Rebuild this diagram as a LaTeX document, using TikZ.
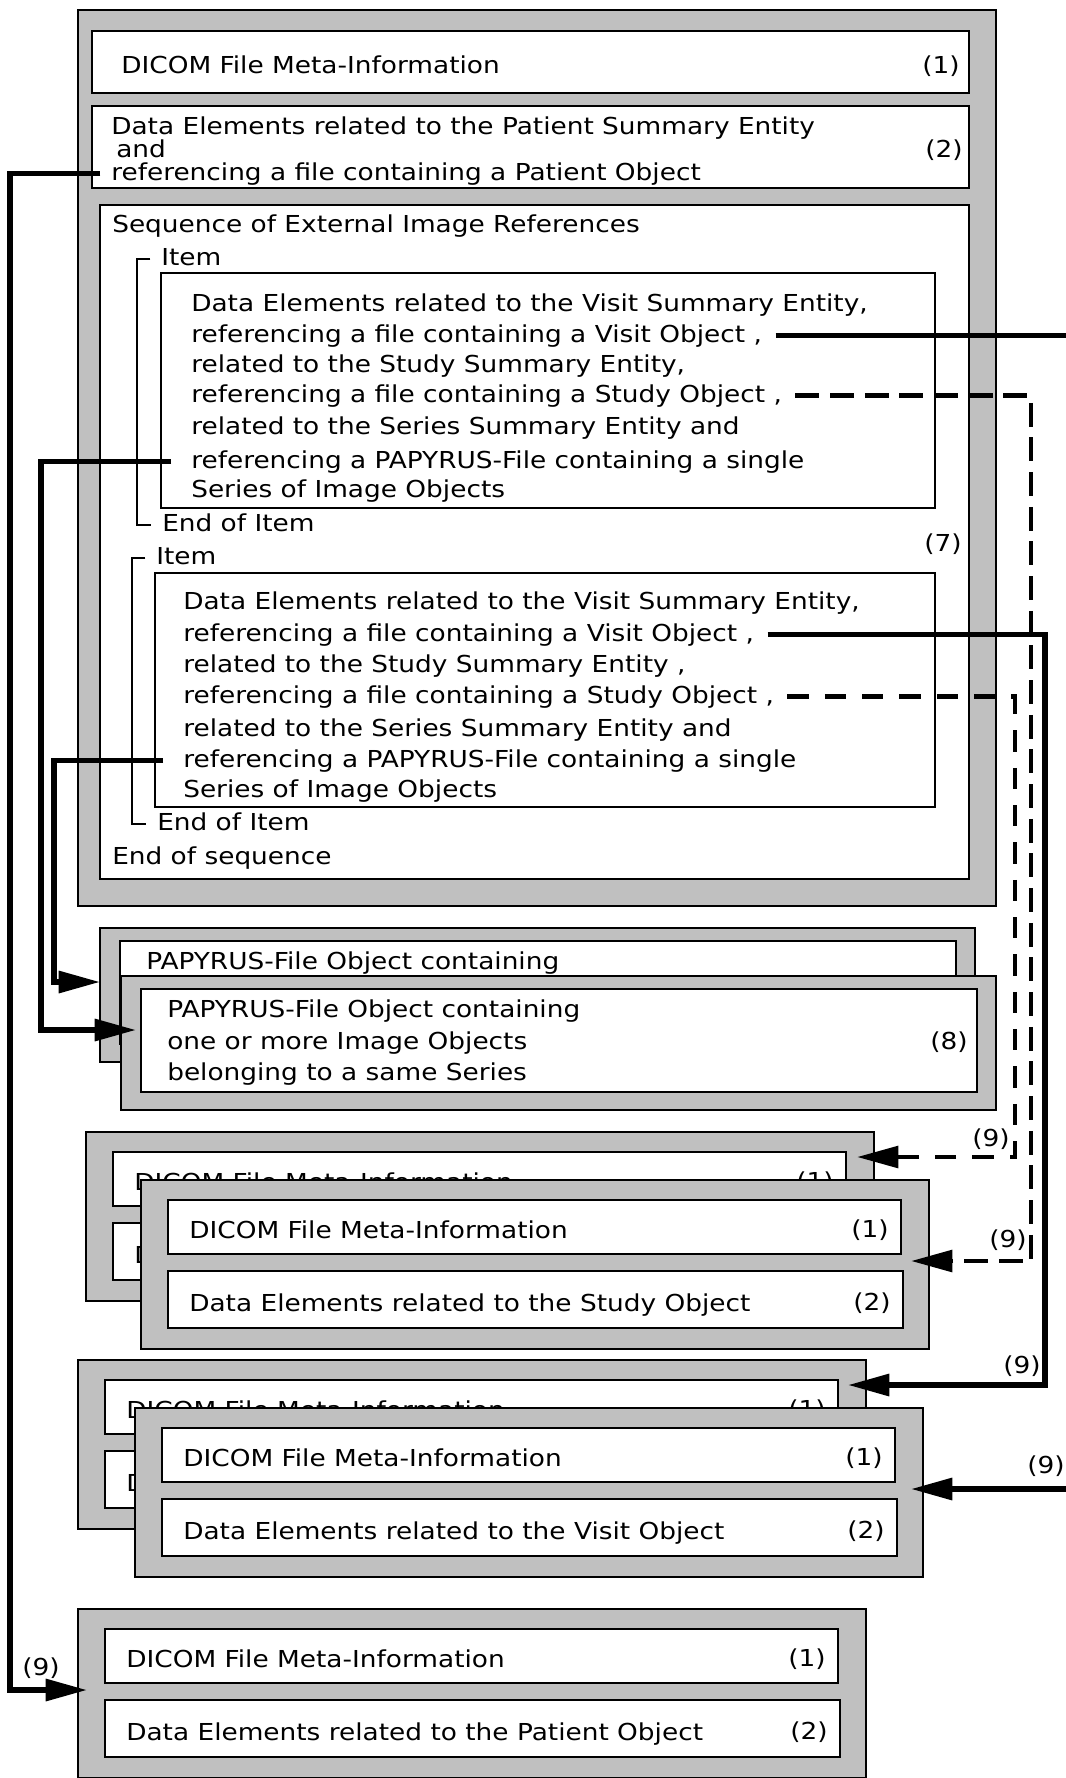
\documentclass[tikz,border=0pt]{standalone}
\usepackage{fontspec}
\setmainfont{DejaVu Sans}[FakeStretch=1.13]
\usetikzlibrary{arrows.meta,fit}
\definecolor{framegray}{RGB}{192,192,192}

\tikzset{
  graybox/.style={draw, line width=1.5pt, fill=framegray, inner sep=0pt},
  whitebox/.style={draw, line width=2.2pt, fill=white, inner sep=0pt},
  thinbox/.style={draw, line width=1.6pt, fill=white, inner sep=0pt},
  txt/.style={font=\fontsize{17.5}{21}\selectfont, inner sep=0pt, text height=13.5pt, text depth=4pt, anchor=base west},
  num/.style={txt, anchor=base east},
  bracket/.style={line width=1.5pt},
  link/.style={line width=4pt, -{Triangle[length=31pt,width=16pt]}},
  studylink/.style={link, line width=3.6pt, dash pattern=on 18pt off 8pt},
  studylinkb/.style={link, line width=3.6pt, dash pattern=on 16pt off 12pt}
}

\newcommand{\dicomfile}[4]{%
  \begin{scope}[shift={(#2,#3)}]
    \node[graybox, fit={(0,0) (788,169)}] (#1) {};
    \node[whitebox, fit={(27,20) (760,74)}] (#1-meta) {};
    \node[whitebox, fit={(27,91) (762,148)}] (#1-data) {};
    \node[txt] (#1-metatext) at (48,58) {DICOM File Meta-Information};
    \node[num] (#1-metanum) at (748,57) {(1)};
    \node[txt] (#1-datatext) at (48,131) {Data Elements related to the #4 Object};
    \node[num] (#1-datanum) at (750,130) {(2)};
  \end{scope}}

\newcommand{\papyrusfile}[3]{%
  \begin{scope}[shift={(#2,#3)}]
    \node[graybox, fit={(0,0) (875,134)}] (#1) {};
    \node[whitebox, fit={(20,13) (856,116)}] (#1-box) {};
    \node[txt] (#1-l1) at (46,41) {PAPYRUS-File Object containing};
  \end{scope}}

\begin{document}
\begin{tikzpicture}[x=0.75pt, y=-0.75pt]
\useasboundingbox (0,0) rectangle (1066,1778);
\clip (0,0) rectangle (1066,1778);

\node[graybox, fit={(78,10) (996,906)}] (mainfile) {};
\node[whitebox, fit={(92,31) (969,93)}] (meta) {};
\node[txt] (metatext) at (121,73) {DICOM File Meta-Information};
\node[num] (metanum) at (960,73) {(1)};
\node[whitebox, fit={(92,106) (969,188)}] (patsum) {};
\node[txt] (ps1) at (111,134) {Data Elements related to the Patient Summary Entity};
\node[txt] (ps2) at (116,157) {and};
\node[txt] (ps3) at (111,180) {referencing a file containing a Patient Object};
\node[num] (psnum) at (963,157) {(2)};
\node[thinbox, fit={(100,205) (969,879)}] (seq) {};
\node[txt] (seqtext) at (112,232) {Sequence of External Image References};
\node[num] (seqnum) at (962,551) {(7)};
\node[txt] (seqend) at (112,864) {End of sequence};

\node[txt] (itema) at (161,265) {Item};
\node[thinbox, fit={(161,273) (935,508)}] (boxa) {};
\foreach \y/\lbl [count=\i] in {311/{Data Elements related to the Visit Summary Entity,},
    342/{referencing a file containing a Visit Object ,},
    372/{related to the Study Summary Entity,},
    402/{referencing a file containing a Study Object ,},
    434/{related to the Series Summary Entity and},
    468/{referencing a PAPYRUS-File containing a single},
    497/{Series of Image Objects}}
  \node[txt] (ia\i) at (191,\y) {\lbl};
\node[txt] (enda) at (162,531) {End of Item};
\draw[bracket] ([xshift=-8pt]itema.west) -- ++(-13,0) |- ([xshift=-8pt]enda.west);

\node[txt] (itemb) at (156,564) {Item};
\node[thinbox, fit={(155,573) (935,807)}] (boxb) {};
\foreach \y/\lbl [count=\i] in {609/{Data Elements related to the Visit Summary Entity,},
    641/{referencing a file containing a Visit Object ,},
    672/{related to the Study Summary Entity ,},
    703/{referencing a file containing a Study Object ,},
    736/{related to the Series Summary Entity and},
    767/{referencing a PAPYRUS-File containing a single},
    797/{Series of Image Objects}}
  \node[txt] (ib\i) at (183,\y) {\lbl};
\node[txt] (endb) at (157,830) {End of Item};
\draw[bracket] ([xshift=-8pt]itemb.west) -- ++(-13,0) |- ([xshift=-8pt]endb.west);

\papyrusfile{papback}{100}{928}
\papyrusfile{papfront}{121}{976}
\node[txt] (papfront-l2) at (167,1049) {one or more Image Objects};
\node[txt] (papfront-l3) at (167,1080) {belonging to a same Series};
\node[num] (papfront-num) at (968,1049) {(8)};
\dicomfile{studyback}{86}{1132}{Study}
\dicomfile{studyfront}{141}{1180}{Study}
\dicomfile{visitback}{78}{1360}{Visit}
\dicomfile{visitfront}{135}{1408}{Visit}
\dicomfile{patfile}{78}{1609}{Patient}

\coordinate (laneP) at (10,0);
\coordinate (laneR1) at (41,0);
\coordinate (laneR2) at (54,0);
\coordinate (laneS2) at (1015,0);
\coordinate (laneS1) at (1031,0);
\coordinate (laneV2) at (1045,0);
\coordinate (laneV1) at (1085,0);
\coordinate (inP) at (87,1690);
\coordinate (inR1) at (136,1030);
\coordinate (inR2) at (100,982);
\coordinate (inS2) at (857,1157);
\coordinate (inS1) at (911,1261);
\coordinate (inV2) at (848,1385);
\coordinate (inV1) at (911,1489);

\draw[link] ([xshift=-8pt]ps3.west) -| (laneP |- inP) -- (inP);
\draw[link] ([xshift=-15pt]ia6.west) -| (laneR1 |- inR1) -- (inR1);
\draw[link] ([xshift=-15pt]ib6.west) -| (laneR2 |- inR2) -- (inR2);
\draw[studylink] ([xshift=10pt]ia4.east) -| (laneS1 |- inS1) -- (inS1);
\draw[studylinkb] ([xshift=10pt]ib4.east) -| (laneS2 |- inS2) -- (inS2);
\draw[link] ([xshift=10pt]ia2.east) -| (laneV1 |- inV1) -- (inV1);
\draw[link] ([xshift=10pt]ib2.east) -| (laneV2 |- inV2) -- (inV2);

\node[txt] (lblP) at (22,1675) {(9)};
\node[txt] (lblS2) at (972,1146) {(9)};
\node[txt] (lblS1) at (989,1247) {(9)};
\node[txt] (lblV2) at (1003,1373) {(9)};
\node[txt] (lblV1) at (1027,1473) {(9)};
\end{tikzpicture}
\end{document}
